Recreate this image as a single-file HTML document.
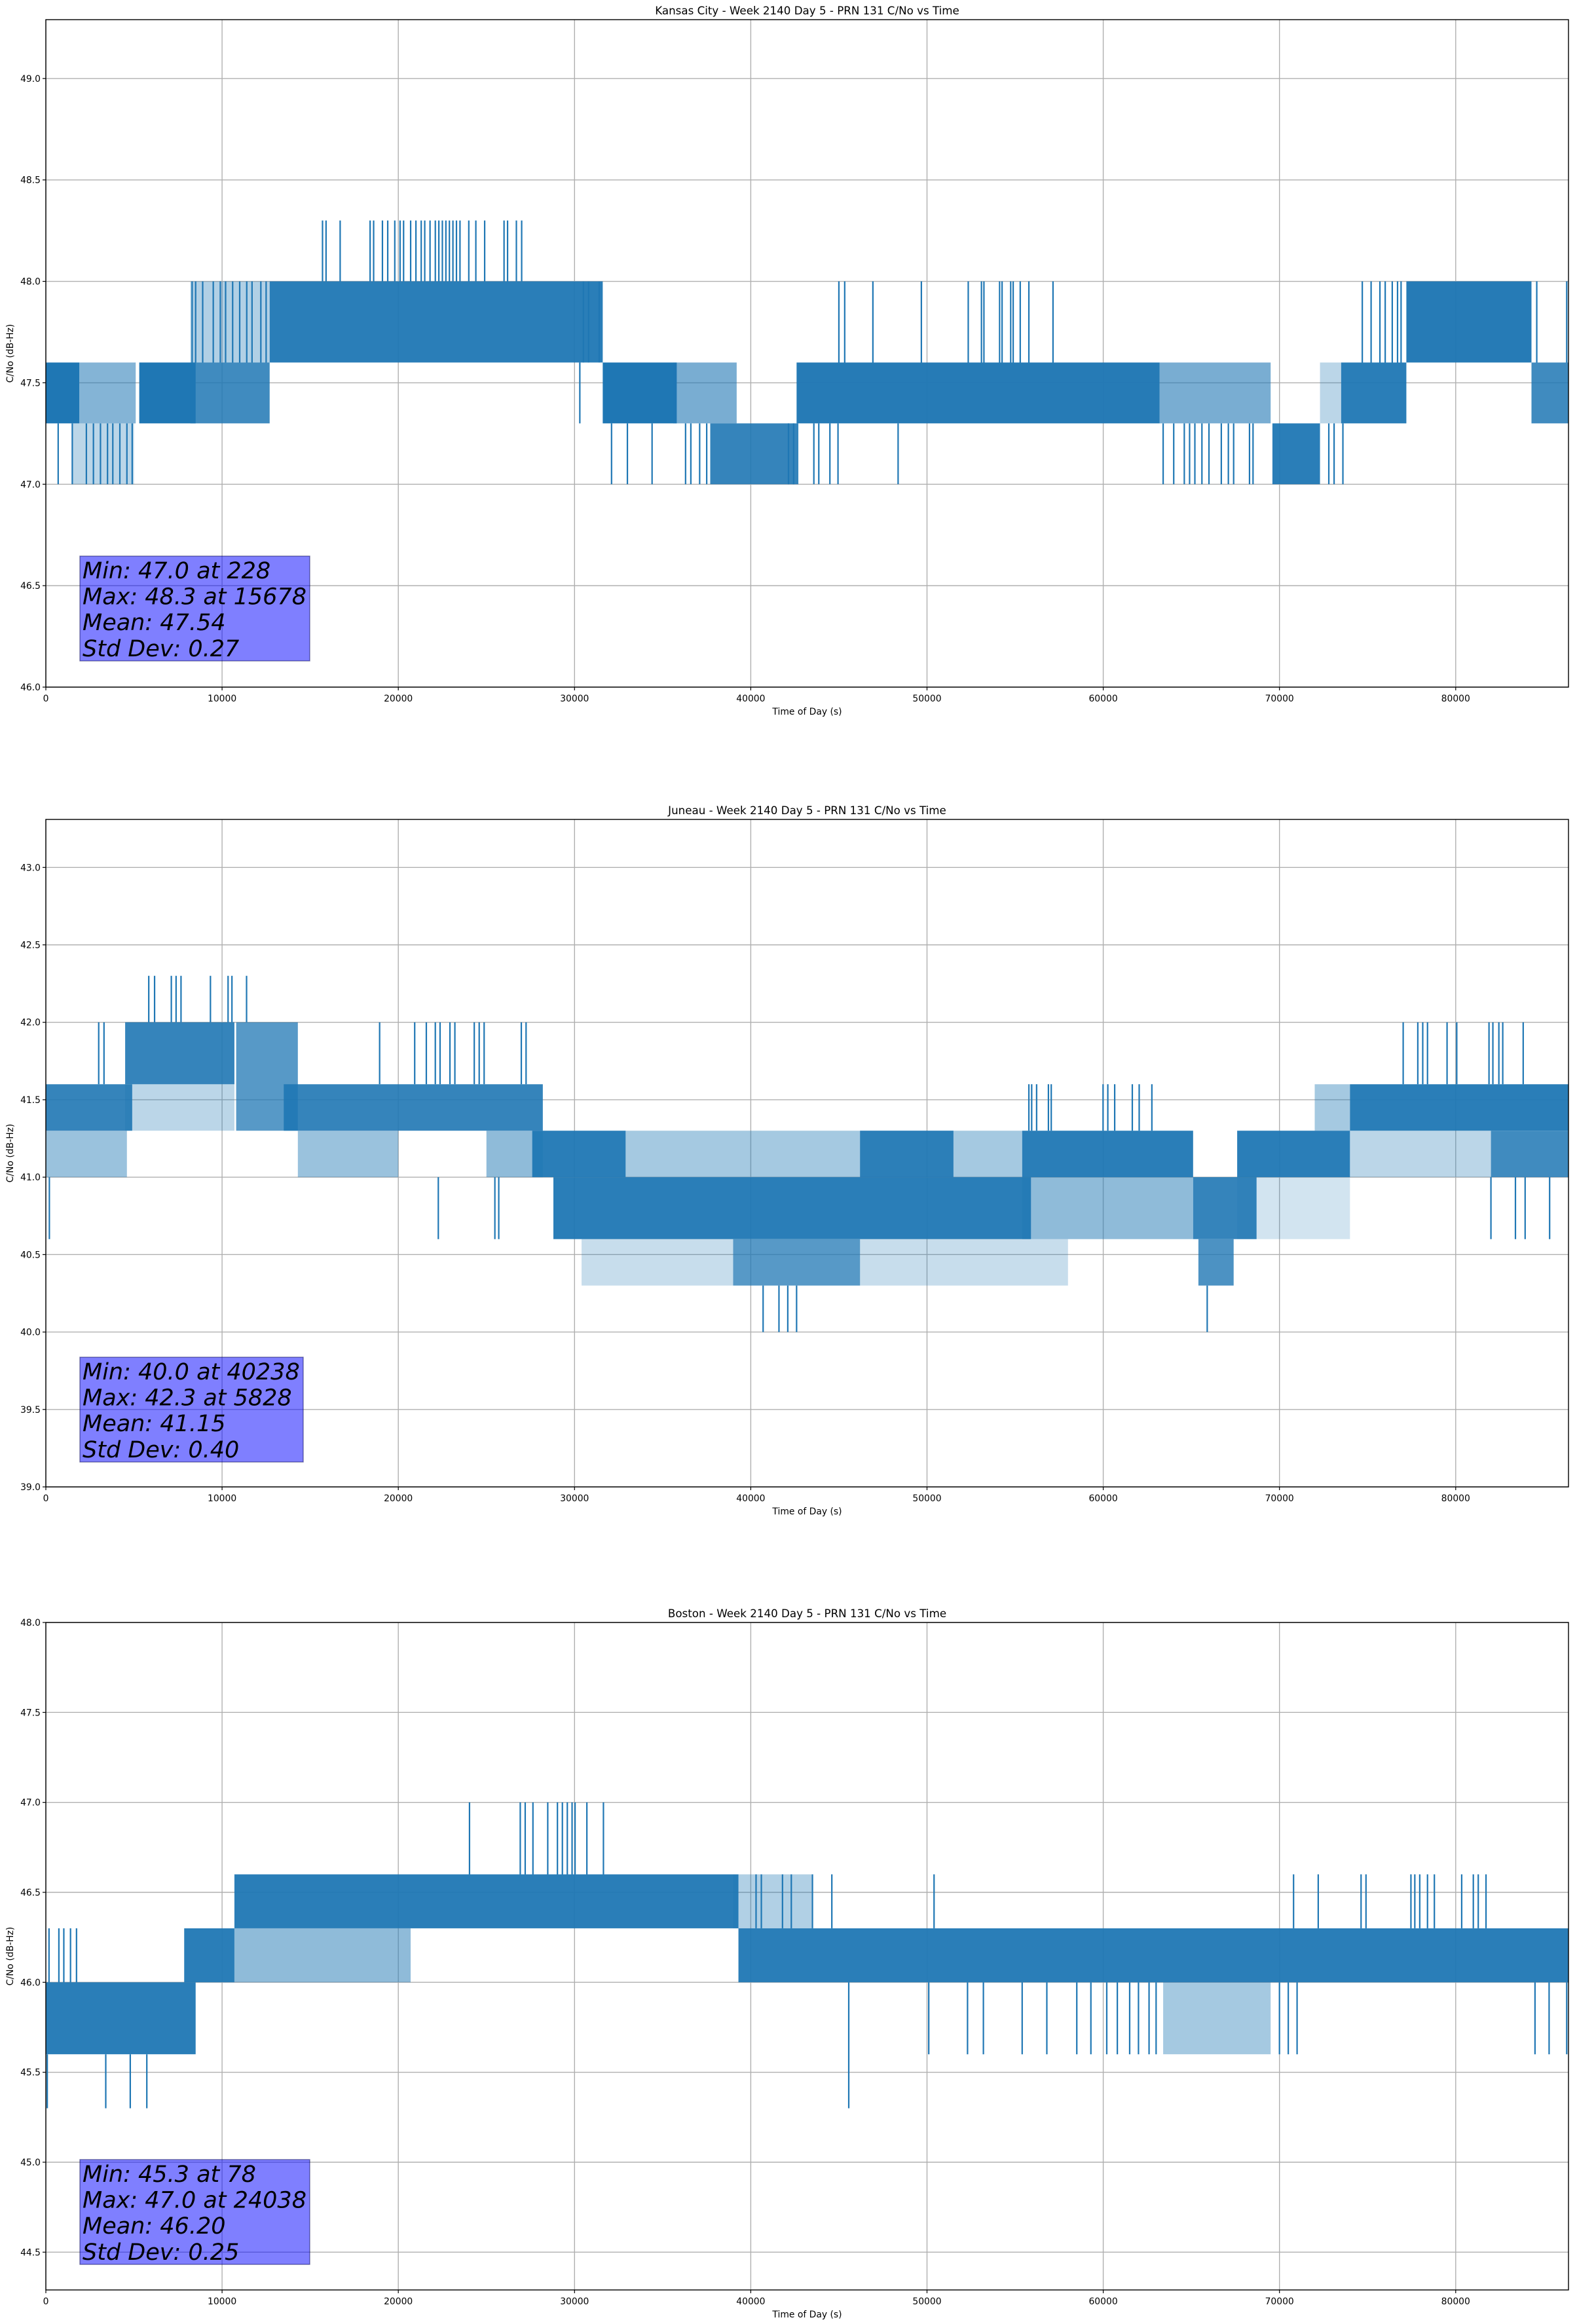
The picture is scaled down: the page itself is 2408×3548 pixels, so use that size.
<!DOCTYPE html>
<html><head><meta charset="utf-8"><style>
html,body{margin:0;padding:0;background:#fff;}
svg{display:block;font-family:"DejaVu Sans","Liberation Sans",sans-serif;}
</style></head><body>
<svg id="fig" width="2408" height="3548" viewBox="0 0 2408 3548" xmlns="http://www.w3.org/2000/svg"></svg>
<script>
// ---- shared axis data ----
const xTicks = [0,10000,20000,30000,40000,50000,60000,70000,80000];
const xMax = 86400;

// ---- Kansas City ----
const kTitle = "Kansas City - Week 2140 Day 5 - PRN 131 C/No vs Time";
const kYTicks = [46.0,46.5,47.0,47.5,48.0,48.5,49.0];
const kBandStart = [0,1900,1500,5300,8200,8200,12700,31600,35600,37700,42600,63200,69600,72300,73500,77200,84300];
const kBandEnd   = [1900,5100,5000,8500,12700,12700,31600,35800,39200,42700,63200,69500,72300,73500,77200,84300,86400];
const kBandLo    = [47.3,47.3,47.0,47.3,47.3,47.6,47.6,47.3,47.3,47.0,47.3,47.3,47.0,47.3,47.3,47.6,47.3];
const kBandHi    = [47.6,47.6,47.3,47.6,47.6,48.0,48.0,47.6,47.6,47.3,47.6,47.6,47.3,47.6,47.6,48.0,47.6];
const kBandDens  = [1,0.55,0.3,1,0.85,0.35,0.95,1,0.6,0.9,0.97,0.6,0.95,0.3,0.95,0.97,0.85];
const kDown470 = [700,1500,2300,2700,3100,3500,3800,4200,4600,4900,32100,33000,34400,36300,36600,37100,37500,42140,42430,43580,43860,44490,44950,48360,63400,64000,64600,64900,65200,65600,66000,66700,67100,67400,68300,68500,72800,73100,73600];
const kUp480 = [8300,8500,8900,9500,9900,10200,10600,11000,11400,11700,12200,12500,30500,30800,31400,45000,45330,46930,49680,52340,53090,53230,54120,54260,54750,54890,55290,55780,57150,74700,75200,75700,76000,76400,76700,76900,84600,86300];
const kUp483 = [15700,15900,16700,18400,18600,19100,19400,19800,20100,20300,20700,21000,21300,21500,21800,22100,22300,22500,22700,22900,23100,23300,23500,24000,24400,24900,26000,26200,26700,27000];
const kDown473 = [30300];
const kStats = ["Min: 47.0 at 228","Max: 48.3 at 15678","Mean: 47.54","Std Dev: 0.27"];

// ---- Juneau ----
const jTitle = "Juneau - Week 2140 Day 5 - PRN 131 C/No vs Time";
const jYTicks = [39.0,39.5,40.0,40.5,41.0,41.5,42.0,42.5,43.0];
const jBandStart = [0,0,4500,4500,10800,13500,14300,25000,27600,28800,32900,46200,30400,39000,46200,55400,55400,65100,65400,67600,67600,72000,74000,74000,82000];
const jBandEnd   = [4900,4600,10700,10700,14300,28200,20000,28200,32900,55900,55400,51500,39000,46200,58000,65100,65100,68700,67400,74000,74000,74000,86400,82000,86400];
const jBandLo    = [41.3,41.0,41.6,41.3,41.3,41.3,41.0,41.0,41.0,40.6,41.0,41.0,40.3,40.3,40.3,41.0,40.6,40.6,40.3,41.0,40.6,41.3,41.3,41.0,41.0];
const jBandHi    = [41.6,41.3,42.0,41.6,42.0,41.6,41.3,41.3,41.3,41.0,41.3,41.3,40.6,40.6,40.6,41.3,41.0,41.0,40.6,41.3,41.0,41.6,41.6,41.3,41.3];
const jBandDens  = [0.9,0.45,0.9,0.3,0.75,0.9,0.45,0.5,0.95,0.95,0.4,0.9,0.25,0.75,0.25,0.95,0.5,0.9,0.8,0.95,0.2,0.4,0.95,0.3,0.85];
const jUp420 = [3000,3300,18940,20930,21590,22100,22370,22930,23210,24310,24590,24870,26980,27250,77020,77850,78130,78400,79510,80060,81890,82110,82450,82670,83830];
const jUp423 = [5840,6170,7120,7390,7670,9340,10340,10560,11390];
const jUp416 = [55780,55940,56220,56890,57050,59990,60260,60650,61650,62040,62760];
const jDown406 = [200,22270,25480,25700,82000,83390,83940,85330];
const jDown400 = [40700,41600,42100,42600,65900];
const jStats = ["Min: 40.0 at 40238","Max: 42.3 at 5828","Mean: 41.15","Std Dev: 0.40"];

// ---- Boston ----
const bTitle = "Boston - Week 2140 Day 5 - PRN 131 C/No vs Time";
const bYTicks = [44.5,45.0,45.5,46.0,46.5,47.0,47.5,48.0];
const bBandStart = [0,7850,10700,10700,39000,39300,63400];
const bBandEnd   = [8500,10700,20700,39300,43500,86400,69500];
const bBandLo    = [45.6,46.0,46.0,46.3,46.3,46.0,45.6];
const bBandHi    = [46.0,46.3,46.3,46.6,46.6,46.3,46.0];
const bBandDens  = [0.95,0.95,0.5,0.95,0.35,0.95,0.4];
const bUp463 = [180,740,1020,1400,1740];
const bDown453 = [80,3400,4790,5730];
const bUp470 = [24040,26920,27200,27640,28480,29030,29310,29590,29860,30030,30700,31640];
const bUp466 = [40300,40600,41800,42300,43500,44600,50400,70800,72200,74630,74910,77460,77680,77960,78400,78790,80340,81000,81280,81720];
const bDown456 = [50100,52300,53200,55400,56800,58500,59300,60200,60800,61500,62000,62600,63000,70000,70500,71000,84500,85300,86300];
const bDown453b = [45560];
const bStats = ["Min: 45.3 at 78","Max: 47.0 at 24038","Mean: 46.20","Std Dev: 0.25"];

const NS = "http://www.w3.org/2000/svg";
const svg = document.getElementById('fig');
function mk(tag, attrs, parent){ const e=document.createElementNS(NS,tag); for(const k in attrs) e.setAttribute(k,attrs[k]); (parent||svg).appendChild(e); return e; }

const L = 70, R = 2395, H = 1019;
const COLOR = "#1f77b4";

function panel(key, top, yMin, yMax, title, yTicks, bands, spikes, stats, box){
  const g = mk('g',{});
  
  
  const xs = t => L + (t / xMax) * (R - L);
  const ys = v => top + H - (v - yMin) / (yMax - yMin) * H;
  xTicks.forEach(t => {
    const ln = mk('line',{x1:xs(t),x2:xs(t),y1:top,y2:top+H,stroke:'#b0b0b0','stroke-width':1.4},g);
    
    
  });
  yTicks.forEach(v => {
    const ln = mk('line',{x1:L,x2:R,y1:ys(v),y2:ys(v),stroke:'#b0b0b0','stroke-width':1.4},g);
    
    
  });
  const sg = mk('g',{},g);
  
  
  for(let i=0;i<bands.start.length;i++){
    const r = mk('rect',{x:xs(bands.start[i]),y:ys(bands.hi[i]),width:xs(bands.end[i])-xs(bands.start[i]),height:ys(bands.lo[i])-ys(bands.hi[i]),fill:COLOR,'fill-opacity':bands.dens[i]},sg);
    
    
  }
  spikes.forEach(sp => {
    sp.times.forEach(t => {
      const ln = mk('line',{x1:xs(t),x2:xs(t),y1:ys(sp.from),y2:ys(sp.to),stroke:COLOR,'stroke-width':2.2},sg);
      
      
    });
  });
  const fr = mk('rect',{x:L,y:top,width:R-L,height:H,fill:'none',stroke:'#000','stroke-width':1.4},g);
  
  
  xTicks.forEach(t => {
    mk('line',{x1:xs(t),x2:xs(t),y1:top+H,y2:top+H+5,stroke:'#000','stroke-width':1.2},g);
    const tx = mk('text',{x:xs(t),y:top+H+22,'font-size':13.9,'text-anchor':'middle',fill:'#000'},g);
    tx.textContent = String(t);
    
    
  });
  yTicks.forEach(v => {
    mk('line',{x1:L-5,x2:L,y1:ys(v),y2:ys(v),stroke:'#000','stroke-width':1.2},g);
    const tx = mk('text',{x:L-8,y:ys(v)+5,'font-size':13.9,'text-anchor':'end',fill:'#000'},g);
    tx.textContent = v.toFixed(1);
    
    
  });
  const tt = mk('text',{x:(L+R)/2,y:top-8,'font-size':16.7,'text-anchor':'middle',fill:'#000'},g);
  tt.textContent = title;
  
  
  const xl = mk('text',{x:(L+R)/2,y:top+H+42,'font-size':13.9,'text-anchor':'middle',fill:'#000'},g);
  xl.textContent = "Time of Day (s)";
  
  
  const cy = top + H/2;
  const yl = mk('text',{x:20,y:cy,'font-size':13.9,'text-anchor':'middle',fill:'#000',transform:`rotate(-90 20 ${cy})`},g);
  yl.textContent = "C/No (dB-Hz)";
  
  
  const bx = mk('rect',{x:122,y:box.y,width:box.w,height:160,fill:'rgba(0,0,255,0.5)',stroke:'rgba(0,0,80,0.5)','stroke-width':1.4},g);
  
  
  stats.forEach((s,i) => {
    const tx = mk('text',{x:126,y:box.y+34+i*39.6,'font-size':35,'font-style':'italic',fill:'#000'},g);
    tx.textContent = s;
    
    
  });
}

panel('kansas-city', 30, 46.0, 49.29, kTitle, kYTicks,
  {start:kBandStart,end:kBandEnd,lo:kBandLo,hi:kBandHi,dens:kBandDens},
  [{times:kDown470,from:47.3,to:47.0},{times:kUp480,from:47.6,to:48.0},{times:kUp483,from:48.0,to:48.3},{times:kDown473,from:47.6,to:47.3}],
  kStats, {y:849,w:351});
panel('juneau', 1251, 39.0, 43.31, jTitle, jYTicks,
  {start:jBandStart,end:jBandEnd,lo:jBandLo,hi:jBandHi,dens:jBandDens},
  [{times:jUp420,from:41.6,to:42.0},{times:jUp423,from:42.0,to:42.3},{times:jUp416,from:41.3,to:41.6},{times:jDown406,from:41.0,to:40.6},{times:jDown400,from:40.3,to:40.0}],
  jStats, {y:2072,w:341});
panel('boston', 2477, 44.29, 48.0, bTitle, bYTicks,
  {start:bBandStart,end:bBandEnd,lo:bBandLo,hi:bBandHi,dens:bBandDens},
  [{times:bUp463,from:46.0,to:46.3},{times:bDown453,from:45.6,to:45.3},{times:bUp470,from:46.6,to:47.0},{times:bUp466,from:46.3,to:46.6},{times:bDown456,from:46.0,to:45.6},{times:bDown453b,from:46.0,to:45.3}],
  bStats, {y:3297,w:351});
</script>
</body></html>
